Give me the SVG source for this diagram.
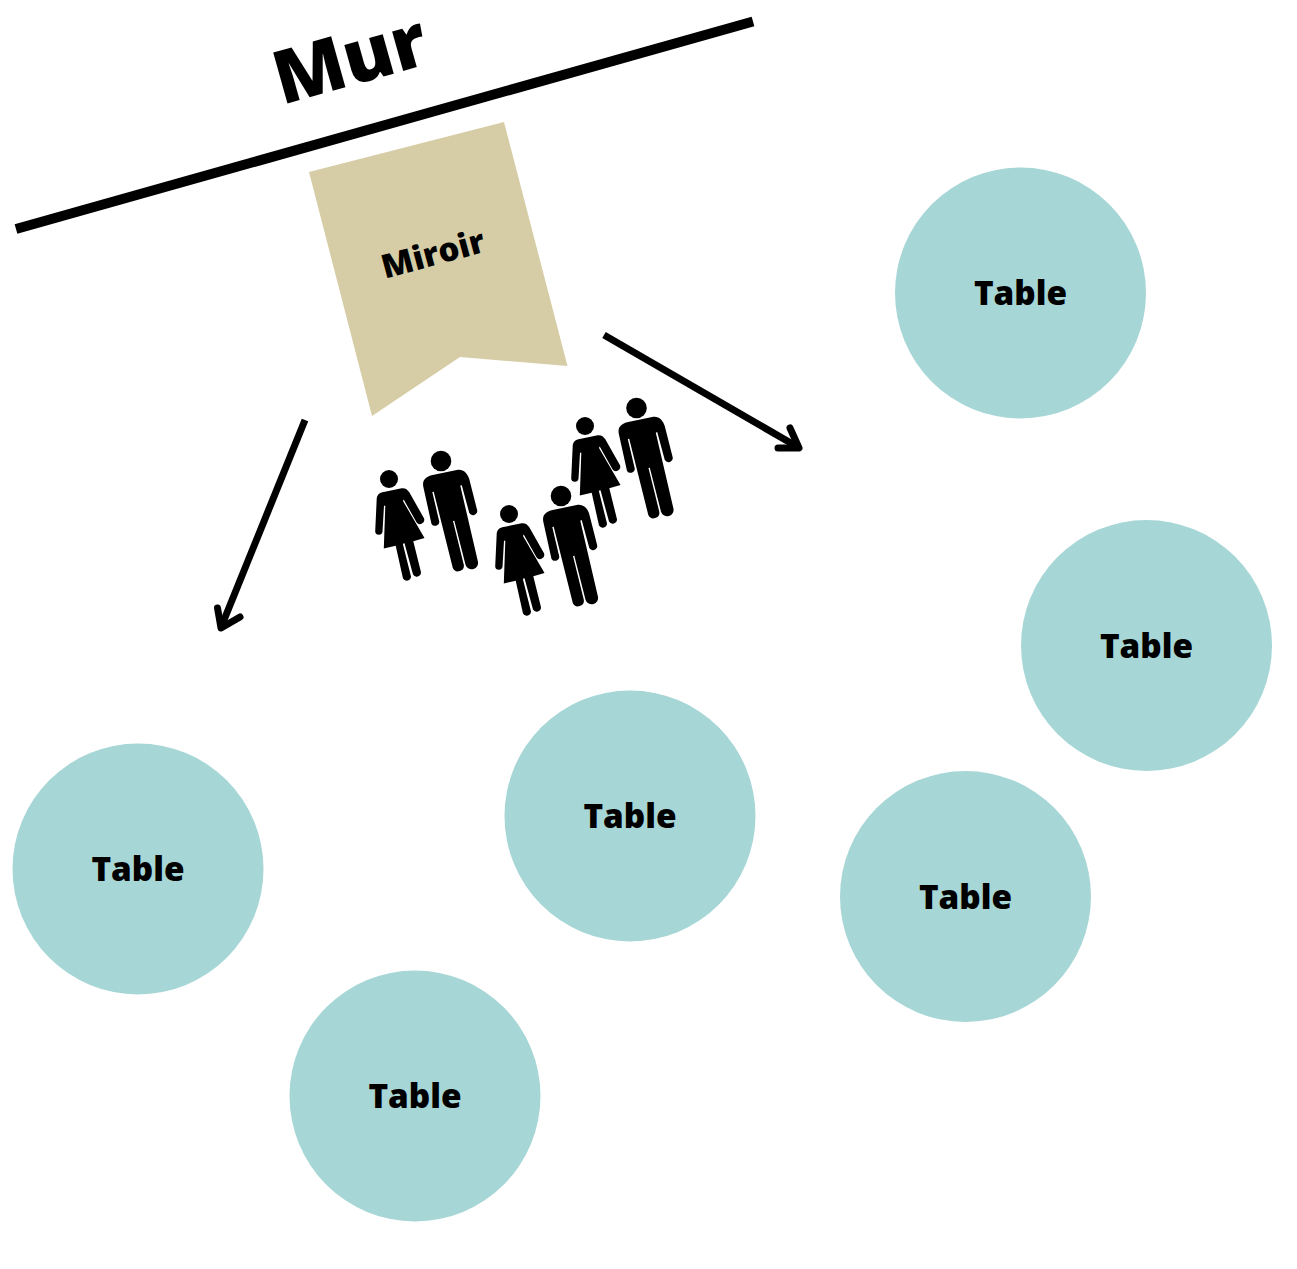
<svg xmlns="http://www.w3.org/2000/svg" xmlns:xlink="http://www.w3.org/1999/xlink" width="1297" height="1269" viewBox="0 0 1297 1269">
<style>
text{font-family:"Open Sans","Liberation Sans",sans-serif;font-weight:800;fill:#000;text-anchor:middle}
.t{fill:#a7d6d6}
.l{font-size:33.300px}
.c{fill:none;stroke:#000;stroke-width:7;stroke-linecap:round;stroke-linejoin:round}
</style>
<defs>
<g id="man">
<circle cx="0" cy="0" r="10.300"/>
<path d="M-17.700,25.700C-19,19-15,15.500-8.300,14L15.700,9C22,7.500,26.500,12,28.300,18.300L36.300,49.700A4.300,4.300 0 0 1 28.300,52L20.700,24L19.300,24.700L36.800,100A6.400,6.400 0 0 1 24.500,103.700L13.300,59.700L12,60L22.800,103.700A5.800,5.800 0 0 1 11.800,107L-7.300,30.700L-8.700,31L-1.700,60.700A4.300,4.300 0 0 1 -9.500,63Z"/>
</g>
<g id="woman">
<circle cx="0" cy="0" r="9"/>
<path d="M-12.300,20C-12,15-9,13.500-4,12.700L12.700,9.300C16,8.800,18.500,10.500,20.300,13.300L35,39.300A4.300,4.300 0 0 1 27.500,43.300L14.700,20.500L14,22L35.500,59L24.300,62.300L32,93.300A4.300,4.300 0 0 1 24,95.500L15.500,64.300L13.800,64.800L22,97.500A4.300,4.300 0 0 1 14,99.500L6.700,66.700L-5.200,69.500L-3.700,26.700L-5,26.700L-6.500,52.800A3.700,3.700 0 0 1 -13.800,52.500Z"/>
</g>
</defs>
<g id="wall">
<line x1="16" y1="229" x2="753" y2="21.500" stroke="#000" stroke-width="10"/>
<text transform="translate(357 84) rotate(-15.700)" font-size="74">Mur</text>
</g>
<g id="mirror">
<polygon points="309,172 504,122 567.500,366 460,357 372,416" fill="#d6cda6"/>
<text transform="translate(436 265) rotate(-15)" font-size="33">Miroir</text>
</g>
<g id="connectors">
<path class="c" style="stroke-linecap:butt" d="M305,420L222,625"/>
<path class="c" d="M217.500,608L221,628L240,617"/>
<path class="c" style="stroke-linecap:butt" d="M604,335L796,446"/>
<path class="c" d="M790,428L799,448L778,448"/>
</g>
<g id="people">
<use xlink:href="#woman" href="#woman" x="389" y="479"/>
<use xlink:href="#man" href="#man" x="441" y="461"/>
<use xlink:href="#woman" href="#woman" x="509" y="514"/>
<use xlink:href="#man" href="#man" x="561" y="496"/>
<use xlink:href="#woman" href="#woman" x="585" y="426"/>
<use xlink:href="#man" href="#man" x="636.500" y="408"/>
</g>
<g id="table-1"><circle class="t" cx="1020.500" cy="293" r="125.500"/><text class="l" x="1020.500" y="305">Table</text></g>
<g id="table-2"><circle class="t" cx="1146.500" cy="645.500" r="125.500"/><text class="l" x="1146.500" y="657.500">Table</text></g>
<g id="table-3"><circle class="t" cx="630" cy="816" r="125.500"/><text class="l" x="630" y="828">Table</text></g>
<g id="table-4"><circle class="t" cx="965.500" cy="896.500" r="125.500"/><text class="l" x="965.500" y="908.500">Table</text></g>
<g id="table-5"><circle class="t" cx="138" cy="869" r="125.500"/><text class="l" x="138" y="881">Table</text></g>
<g id="table-6"><circle class="t" cx="415" cy="1096" r="125.500"/><text class="l" x="415" y="1108">Table</text></g>
</svg>
